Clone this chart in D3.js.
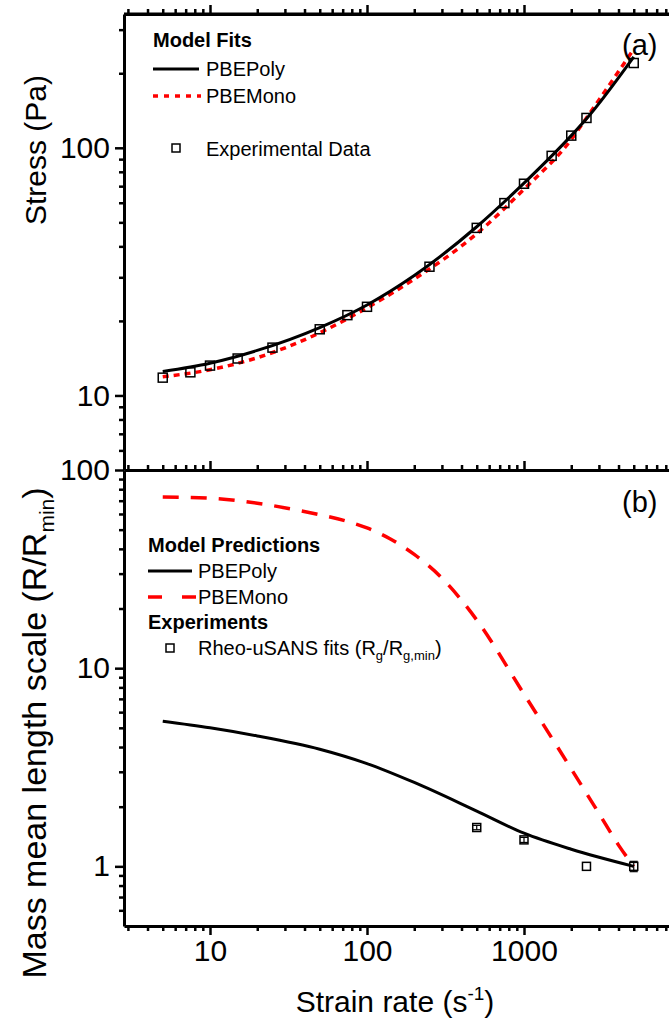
<!DOCTYPE html>
<html>
<head>
<meta charset="utf-8">
<script src="https://cdn.jsdelivr.net/npm/d3@7"></script>
<style>
  body { margin: 0; background: #fff; }
  text { font-family: "Liberation Sans", Arial, sans-serif; fill: #000; }
</style>
</head>
<body>
<div id="chart"></div>
<script>
var svgWidth = 669;
var svgHeight = 1026;

// (a) experimental stress vs strain rate
var expRate = [5, 7.5, 10, 15, 25, 50, 75, 100, 250, 500, 750, 1000, 1500, 2000, 2500, 5000];
var expStress = [11.8, 12.4, 13.2, 14.1, 15.6, 18.5, 21.1, 22.8, 33.1, 47.5, 59.8, 71.6, 92.8, 112, 132, 220];

// (a) model fits
var fitRate = [5, 10, 20, 50, 100, 200, 500, 1000, 2000, 2500, 5000];
var polyStress = [12.5, 13.5, 15.2, 18.8, 23.2, 30.5, 48, 72, 112, 131, 233];
var monoStress = [11.9, 12.7, 14.2, 17.9, 22.6, 29.5, 45, 68, 108, 132, 250];

// (b) model predictions of mass mean length scale
var polyPredRate = [5, 10, 20, 50, 100, 200, 500, 1000, 2000, 5000];
var polyPredScale = [5.4, 5.0, 4.55, 3.9, 3.3, 2.65, 1.9, 1.47, 1.22, 1.0];
var monoPredRate = [5, 10, 20, 35, 50, 75, 100, 140, 200, 300, 500, 1000, 2000, 3000, 4000, 5000];
var monoPredScale = [73, 72, 68, 63, 59.5, 55, 51, 45, 37.5, 28.5, 17.5, 7.4, 3.1, 1.85, 1.28, 1.0];

// (b) Rheo-uSANS fits
var sansRate = [500, 1000, 2500, 5000];
var sansScale = [1.57, 1.36, 1.0, 1.0];
var sansErr = [0.04, 0.04, 0, 0.06];

var xMajor = [10, 100, 1000];
var topYMajor = [10, 100];
var botYMajor = [1, 10, 100];

var left = 124, right = 681;
var topA = 14, midY = 470, botB = 926;

var svg = d3.select("#chart").append("svg")
  .attr("width", svgWidth)
  .attr("height", svgHeight);

var x = d3.scaleLog().domain([2.833, 10000]).range([left, right]);
var yA = d3.scaleLog().domain([5, 347]).range([midY, topA]);
var yB = d3.scaleLog().domain([0.5, 100]).range([botB, midY]);

function minorTicks(lo, hi) {
  var out = [];
  for (var p = -1; p <= 4; p++) {
    for (var m = 2; m <= 9; m++) {
      var v = m * Math.pow(10, p);
      if (v > lo * 1.001 && v < hi * 0.999) out.push(v);
    }
  }
  return out;
}

function styleAxis(g) {
  g.selectAll("path.domain").attr("stroke", "#000").attr("stroke-width", 3);
  g.selectAll(".tick line").attr("stroke", "#000").attr("stroke-width", 2.5);
  g.selectAll(".tick text").style("font-size", "30px").attr("fill", "#000")
    .style("font-family", "'Liberation Sans', Arial, sans-serif");
}

function drawAxis(axisFn, scale, pos, major, labels, isX) {
  var lo = scale.domain()[0], hi = scale.domain()[1];
  var g1 = svg.append("g")
    .attr("transform", isX ? "translate(0," + pos + ")" : "translate(" + pos + ",0)")
    .call(axisFn(scale).tickValues(minorTicks(lo, hi).filter(function(v) { return major.indexOf(v) < 0; }))
      .tickSize(5).tickSizeOuter(0).tickFormat(""));
  styleAxis(g1);
  var g2 = svg.append("g")
    .attr("transform", isX ? "translate(0," + pos + ")" : "translate(" + pos + ",0)")
    .call(axisFn(scale).tickValues(major).tickSize(9).tickSizeOuter(0).tickPadding(5)
      .tickFormat(labels ? d3.format("d") : ""));
  styleAxis(g2);
  g2.select("path.domain").remove();
}

// frame lines
svg.append("line").attr("x1", left).attr("x2", right).attr("y1", topA).attr("y2", topA)
  .attr("stroke", "#000").attr("stroke-width", 3);

drawAxis(d3.axisTop, x, topA, xMajor, false, true);
drawAxis(d3.axisTop, x, midY, xMajor, false, true);
drawAxis(d3.axisBottom, x, botB, xMajor, true, true);
drawAxis(d3.axisLeft, yA, left, topYMajor, true, false);
drawAxis(d3.axisLeft, yB, left, botYMajor, true, false);

// ---- panel (a)
var lineA = d3.line().x(function(d) { return x(d[0]); }).y(function(d) { return yA(d[1]); })
  .curve(d3.curveMonotoneX);
svg.append("path").datum(d3.zip(fitRate, monoStress)).attr("d", lineA)
  .attr("fill", "none").attr("stroke", "#ff0000").attr("stroke-width", 3.5)
  .attr("stroke-dasharray", "6,5");
svg.append("path").datum(d3.zip(fitRate, polyStress)).attr("d", lineA)
  .attr("fill", "none").attr("stroke", "#000").attr("stroke-width", 3);

var sq = 9;
svg.append("g").selectAll("rect")
  .data(d3.zip(expRate, expStress))
  .enter()
  .append("rect")
  .attr("x", function(d) { return x(d[0]) - sq / 2; })
  .attr("y", function(d) { return yA(d[1]) - sq / 2; })
  .attr("width", sq).attr("height", sq)
  .attr("fill", "none").attr("stroke", "#000").attr("stroke-width", 1.5);

// ---- panel (b)
var lineB = d3.line().x(function(d) { return x(d[0]); }).y(function(d) { return yB(d[1]); })
  .curve(d3.curveMonotoneX);
svg.append("path").datum(d3.zip(monoPredRate, monoPredScale)).attr("d", lineB)
  .attr("fill", "none").attr("stroke", "#ff0000").attr("stroke-width", 3.5)
  .attr("stroke-dasharray", "16,12");
svg.append("path").datum(d3.zip(polyPredRate, polyPredScale)).attr("d", lineB)
  .attr("fill", "none").attr("stroke", "#000").attr("stroke-width", 3);

var sans = d3.zip(sansRate, sansScale, sansErr);
var eb = svg.append("g").selectAll("g").data(sans.filter(function(d) { return d[2] > 0; }))
  .enter().append("g").attr("stroke", "#000").attr("stroke-width", 1.2);
eb.append("line")
  .attr("x1", function(d) { return x(d[0]); }).attr("x2", function(d) { return x(d[0]); })
  .attr("y1", function(d) { return yB(d[1] - d[2]); }).attr("y2", function(d) { return yB(d[1] + d[2]); });
eb.append("line")
  .attr("x1", function(d) { return x(d[0]) - 4; }).attr("x2", function(d) { return x(d[0]) + 4; })
  .attr("y1", function(d) { return yB(d[1] - d[2]); }).attr("y2", function(d) { return yB(d[1] - d[2]); });
eb.append("line")
  .attr("x1", function(d) { return x(d[0]) - 4; }).attr("x2", function(d) { return x(d[0]) + 4; })
  .attr("y1", function(d) { return yB(d[1] + d[2]); }).attr("y2", function(d) { return yB(d[1] + d[2]); });

svg.append("g").selectAll("rect")
  .data(sans)
  .enter()
  .append("rect")
  .attr("x", function(d) { return x(d[0]) - 4; })
  .attr("y", function(d) { return yB(d[1]) - 4; })
  .attr("width", 8).attr("height", 8)
  .attr("fill", "none").attr("stroke", "#000").attr("stroke-width", 1.5);

// ---- legends
var legA = svg.append("g");
legA.append("text").attr("x", 153).attr("y", 47).style("font-size", "20px").style("font-weight", "bold").text("Model Fits");
legA.append("line").attr("x1", 153).attr("x2", 199).attr("y1", 69).attr("y2", 69).attr("stroke", "#000").attr("stroke-width", 3);
legA.append("text").attr("x", 206).attr("y", 76).style("font-size", "20px").text("PBEPoly");
legA.append("line").attr("x1", 153).attr("x2", 201).attr("y1", 96).attr("y2", 96).attr("stroke", "#ff0000").attr("stroke-width", 3.5).attr("stroke-dasharray", "5,6");
legA.append("text").attr("x", 206).attr("y", 103).style("font-size", "20px").text("PBEMono");
legA.append("rect").attr("x", 172).attr("y", 144).attr("width", 8).attr("height", 8).attr("fill", "none").attr("stroke", "#000").attr("stroke-width", 1.5);
legA.append("text").attr("x", 206).attr("y", 156).style("font-size", "20px").text("Experimental Data");

var legB = svg.append("g");
legB.append("text").attr("x", 148).attr("y", 552).style("font-size", "20px").style("font-weight", "bold").text("Model Predictions");
legB.append("line").attr("x1", 148).attr("x2", 192).attr("y1", 571).attr("y2", 571).attr("stroke", "#000").attr("stroke-width", 3);
legB.append("text").attr("x", 198).attr("y", 578).style("font-size", "20px").text("PBEPoly");
legB.append("line").attr("x1", 148).attr("x2", 196).attr("y1", 597).attr("y2", 597).attr("stroke", "#ff0000").attr("stroke-width", 3.5).attr("stroke-dasharray", "14,20");
legB.append("text").attr("x", 198).attr("y", 604).style("font-size", "20px").text("PBEMono");
legB.append("text").attr("x", 148).attr("y", 629).style("font-size", "20px").style("font-weight", "bold").text("Experiments");
legB.append("rect").attr("x", 166).attr("y", 644).attr("width", 8).attr("height", 8).attr("fill", "none").attr("stroke", "#000").attr("stroke-width", 1.5);
var rs = legB.append("text").attr("x", 198).attr("y", 655).style("font-size", "20px");
rs.append("tspan").text("Rheo-uSANS fits (R");
rs.append("tspan").attr("dy", 5).style("font-size", "13px").text("g");
rs.append("tspan").attr("dy", -5).text("/R");
rs.append("tspan").attr("dy", 5).style("font-size", "13px").text("g,min");
rs.append("tspan").attr("dy", -5).text(")");

// panel tags
svg.append("text").attr("x", 622).attr("y", 55).style("font-size", "29px").text("(a)");
svg.append("text").attr("x", 622).attr("y", 512).style("font-size", "29px").text("(b)");

// axis titles
var xt = svg.append("text").attr("x", 395).attr("y", 1012).attr("text-anchor", "middle").style("font-size", "30px");
xt.append("tspan").text("Strain rate (s");
xt.append("tspan").attr("dy", -12).style("font-size", "19px").text("-1");
xt.append("tspan").attr("dy", 12).text(")");

svg.append("text")
  .attr("transform", "translate(46," + 150 + ") rotate(-90)")
  .attr("text-anchor", "middle").style("font-size", "30px").text("Stress (Pa)");

var yt = svg.append("text")
  .attr("transform", "translate(46," + 733 + ") rotate(-90)")
  .attr("text-anchor", "middle").style("font-size", "34px");
yt.append("tspan").text("Mass mean length scale (R/R");
yt.append("tspan").attr("dy", 8).style("font-size", "21px").text("min");
yt.append("tspan").attr("dy", -8).text(")");
</script>
</body>
</html>
